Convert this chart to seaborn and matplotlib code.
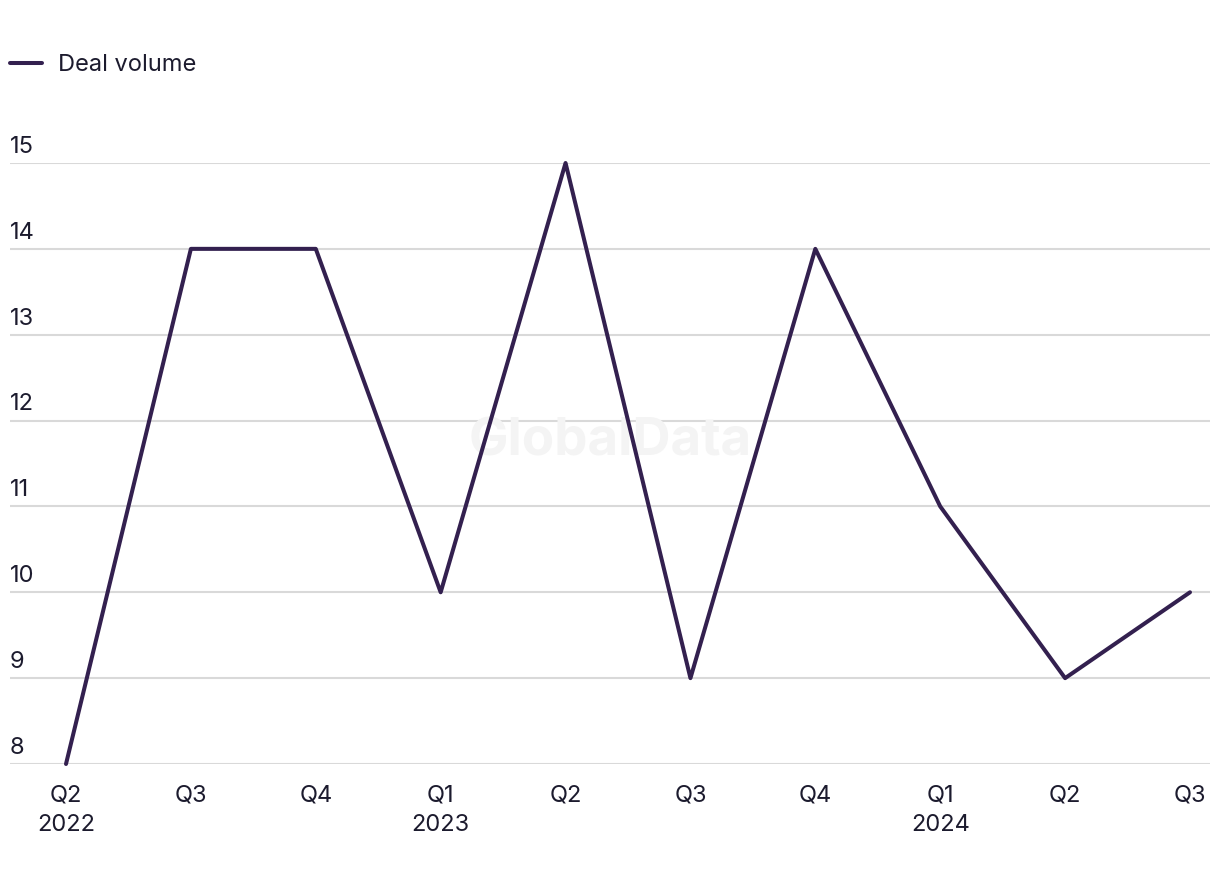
import pandas as pd
import matplotlib.pyplot as plt
import seaborn as sns

# Dados do gráfico
quarters = ['Q2', 'Q3', 'Q4', 'Q1', 'Q2', 'Q3', 'Q4', 'Q1', 'Q2', 'Q3']
years = ['2022', '', '', '2023', '', '', '', '2024', '', '']
deal_volume = [8, 14, 14, 10, 15, 9, 14, 11, 9, 10]
y_ticks = [8, 9, 10, 11, 12, 13, 14, 15]

df = pd.DataFrame({
    'pos': range(len(deal_volume)),
    'Deal volume': deal_volume,
})

sns.set_style('white')
plt.rcParams['font.family'] = ['Inter', 'DejaVu Sans']

text_color = '#1c1b2e'
line_color = '#33204f'

fig = plt.figure(figsize=(12.2, 8.84), dpi=100)
ax = fig.add_axes([10 / 1220, 1 - 764 / 884, 1200 / 1220, (764 - 163) / 884])

sns.lineplot(data=df, x='pos', y='Deal volume', ax=ax, color=line_color,
             linewidth=2.9, label='Deal volume', clip_on=False, zorder=3)

# Eixos
step = (1190 - 66) / 9
ax.set_xlim(-(66 - 10) / step, 9 + (1210 - 1190) / step)
ax.set_ylim(8, 15)
ax.set_xticks(range(len(quarters)))
ax.set_xticklabels([q if not y else f'{q}\n{y}' for q, y in zip(quarters, years)],
                   fontsize=17, color=text_color, linespacing=1.4, va='top')
ax.tick_params(axis='x', length=0, pad=15)
ax.set_yticks(y_ticks)
ax.set_yticklabels([])
ax.tick_params(axis='y', length=0)
ax.set_xlabel('')
ax.set_ylabel('')
ax.grid(axis='y', color='#d9d9d9', linewidth=1.5, zorder=0)
ax.set_axisbelow(True)
for s in ax.spines.values():
    s.set_visible(False)

# Rótulos do eixo y acima das linhas de grade
for v in y_ticks:
    ax.text(0, v + 0.06, str(v), transform=ax.get_yaxis_transform(),
            ha='left', va='bottom', fontsize=17, color=text_color)

# Marca d'água
ax.text(0.5, 0.536, 'GlobalData', transform=ax.transAxes, ha='center', va='center',
        fontsize=38, fontweight='bold', color='#f4f4f4', zorder=1)

# Legenda
leg = ax.legend(loc='upper left', bbox_to_anchor=(10 / 1220, 1 - 54 / 884),
                bbox_transform=fig.transFigure, frameon=False, fontsize=17,
                handlelength=1.35, handletextpad=0.7, borderaxespad=0, borderpad=0)
for t in leg.get_texts():
    t.set_color(text_color)

fig.savefig('out.png', dpi=100)
